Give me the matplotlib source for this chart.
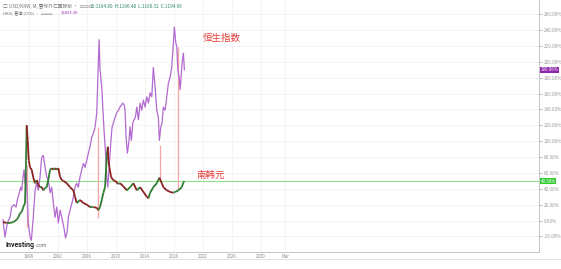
## USD/KRW vs Hang Seng, percent change since start (monthly)
import numpy as np
import matplotlib.pyplot as plt
from matplotlib.collections import LineCollection
from matplotlib.lines import Line2D

plt.rcParams['font.family'] = ['Noto Sans CJK SC', 'DejaVu Sans']

## Hang Seng index, % change (decimal year, value)
hsi_t = [1994.41, 1994.69, 1995.01, 1995.38, 1995.61, 1995.93, 1996.21, 1996.39, 1996.66, 1996.86,
         1996.99, 1997.13, 1997.31, 1997.45, 1997.59, 1997.77, 1997.90, 1998.14, 1998.32, 1998.59,
         1998.83, 1999.06, 1999.28, 1999.52, 1999.75, 1999.97, 2000.21, 2000.44, 2000.66, 2000.90,
         2001.13, 2001.35, 2001.59, 2001.82, 2002.04, 2002.28, 2002.51, 2002.83, 2003.03, 2003.24,
         2003.42, 2003.66, 2004.03, 2004.34, 2004.58, 2004.80, 2005.03, 2005.27, 2005.49, 2005.72,
         2005.96, 2006.18, 2006.41, 2006.65, 2006.87, 2007.10, 2007.34, 2007.48, 2007.66, 2007.79,
         2008.03, 2008.17, 2008.34, 2008.58, 2008.72, 2008.86, 2009.08, 2009.27, 2009.45, 2009.63,
         2009.86, 2010.10, 2010.32, 2010.55, 2010.92, 2011.10, 2011.24, 2011.38, 2011.56, 2011.75,
         2011.93, 2012.11, 2012.30, 2012.48, 2012.66, 2012.86, 2013.08, 2013.31, 2013.54, 2013.77,
         2014.00, 2014.23, 2014.46, 2014.69, 2014.92, 2015.14, 2015.38, 2015.61, 2015.83, 2015.97,
         2016.17, 2016.34, 2016.52, 2016.76, 2016.99, 2017.21, 2017.45, 2017.68, 2017.90, 2018.04,
         2018.23, 2018.37, 2018.51, 2018.69, 2018.83, 2018.97, 2019.10, 2019.28, 2019.42]
hsi_v = [1, -21, -3, 4, 17, 20, 17, 26, 35, 42,
         38, 51, 64, 47, 61, 26, -3, -21, -25, 4,
         38, 47, 38, 55, 80, 82, 67, 55, 51, 35,
         42, 22, 4, 17, -3, 13, 4, -10, -22, -15,
         4, 13, 26, 42, 47, 42, 55, 64, 72, 67,
         76, 85, 93, 105, 110, 117, 136, 177, 228, 190,
         168, 143, 114, 80, 55, 42, 72, 98, 118, 123,
         130, 136, 139, 143, 148, 146, 139, 105, 85, 98,
         118, 101, 123, 127, 130, 143, 127, 148, 139, 152,
         143, 156, 148, 161, 156, 193, 168, 139, 130, 101,
         118, 123, 143, 139, 156, 173, 181, 193, 224, 244,
         224, 219, 190, 181, 165, 181, 199, 211, 190.06]

## USD/KRW, % change
krw_t = [1994.41, 1994.92, 1995.38, 1995.83, 1996.30, 1996.52, 1996.76, 1996.99, 1997.21, 1997.45,
         1997.59, 1997.68, 1997.82, 1997.96, 1998.14, 1998.37, 1998.59, 1998.83, 1999.06, 1999.28,
         1999.52, 1999.75, 1999.97, 2000.21, 2000.44, 2000.66, 2000.90, 2001.13, 2001.35, 2001.59,
         2001.82, 2002.04, 2002.28, 2002.51, 2002.73, 2003.20, 2003.66, 2004.11, 2004.34, 2004.58,
         2005.03, 2005.49, 2005.96, 2006.41, 2006.87, 2007.34, 2007.56, 2007.79, 2008.03, 2008.25,
         2008.48, 2008.72, 2008.86, 2008.94, 2009.08, 2009.31, 2009.59, 2009.86, 2010.32, 2010.55,
         2011.01, 2011.48, 2011.93, 2012.39, 2012.86, 2013.31, 2013.77, 2014.23, 2014.46, 2014.69,
         2015.14, 2015.61, 2015.97, 2016.30, 2016.52, 2016.99, 2017.45, 2017.90, 2018.14, 2018.59,
         2019.06, 2019.28, 2019.42]
krw_v = [-2, -3, -3, -2, 1, 4, 9, 11, 17, 22,
         76, 120, 101, 76, 67, 64, 54, 47, 51, 45,
         42, 42, 38, 41, 42, 51, 64, 66, 64, 66,
         64, 66, 55, 51, 50, 47, 42, 38, 30, 22,
         26, 22, 20, 17, 17, 16, 13, 17, 26, 35,
         42, 82, 93, 76, 67, 55, 51, 50, 46, 47,
         43, 38, 42, 47, 38, 42, 36, 30, 28, 35,
         42, 47, 54, 47, 42, 38, 36, 35, 36, 38,
         42, 48, 49.58]

## hand-drawn marker lines: (year, bottom %, top %)
mark_t = [1997.68, 2007.48, 2016.07, 2018.51]
mark_lo = [-8, 3, 54, 38]
mark_hi = [70, 118, 95, 219]

yticks = list(range(-20, 261, 20))
xticks = [1998, 2002, 2006, 2010, 2014, 2018, 2022, 2026, 2030, 2033.3]
xlabels = ['1998', '2002', '2006', '2010', '2014', '2018', '2022', '2026', '2030', 'Mar']

fig = plt.figure(figsize=(5.61, 2.69), dpi=100)
ax = fig.add_axes([0, 17/269, 539/561, 252/269])
ax.set_xlim(1994.0, 2068.3)
ax.set_ylim(-39.7, 278)

ax.grid(True, color='#f2f2f2', lw=0.6)
ax.set_axisbelow(True)

ax.axhline(krw_v[-1], color='#8fe08f', lw=0.8, zorder=1)

ax.vlines(mark_t, mark_lo, mark_hi, color='#f5a3a3', lw=0.9, zorder=2)

ax.plot(hsi_t, hsi_v, color='#b36ad0', lw=0.9, zorder=3)

## KRW line coloured by direction
pts = np.column_stack([krw_t, krw_v])
segs = np.stack([pts[:-1], pts[1:]], axis=1)
cols = ['#2e7d32' if b >= a else '#8b2020' for a, b in zip(krw_v[:-1], krw_v[1:])]
ax.add_collection(LineCollection(segs, colors=cols, linewidths=1.3, zorder=4))

ax.yaxis.tick_right()
ax.set_yticks(yticks)
ax.set_yticklabels([f'{v:.2f}%' for v in yticks])
ax.set_xticks(xticks)
ax.set_xticklabels(xlabels)
ax.tick_params(axis='y', labelsize=3.3, colors='#999999', length=2, pad=1.5, width=0.5)
ax.tick_params(axis='x', labelsize=3.2, colors='#888888', length=0, pad=1.2)
for s in ['top', 'left']:
    ax.spines[s].set_visible(False)
for s in ['right', 'bottom']:
    ax.spines[s].set_color('#bbbbbb')
    ax.spines[s].set_linewidth(0.6)

yt = ax.get_yaxis_transform()
ax.text(1.003, hsi_v[-1], f'{hsi_v[-1]:.2f}%', transform=yt, fontsize=3.2, color='white',
        va='center', ha='left', bbox=dict(boxstyle='square,pad=0.15', fc='#8e24aa', ec='none'))
ax.text(1.003, krw_v[-1], f'{krw_v[-1]:.2f}%', transform=yt, fontsize=3.2, color='white',
        va='center', ha='left', bbox=dict(boxstyle='square,pad=0.15', fc='#33cc33', ec='none'))

ax.text(2024.5, 230, '恒生指数', color='#e53935', fontsize=6.8, ha='center', va='center')
ax.text(2023.1, 57, '南韩元', color='#e53935', fontsize=6.8, ha='center', va='center')

## header
fig.text(3/561, 1 - 6/269, '□ USD/KRW, M, 雪球外汇国际版 ·  ▭▭▭', fontsize=3.4, color='#777777', va='center')
fig.text(91/561, 1 - 6/269, 'O:1164.80  H:1196.48  L:1160.32  C:1194.66', fontsize=3.4,
         color='#2e8b6a', va='center')
fig.text(3/561, 1 - 13/269, 'HKSI, 香港 (CFD) ·  ▭▭▭', fontsize=3.0, color='#777777', va='center')
fig.text(61/561, 1 - 13/269, '25893.30', fontsize=3.0, color='#9c27b0', va='center')

## logo
fig.text(6/561, 1 - 245/269, 'Investing', fontsize=5.0, fontweight='bold', color='#222222',
         va='center', family='Roboto')
fig.text(35.5/561, 1 - 245.5/269, '.com', fontsize=3.6, color='#666666', va='center', family='Roboto')

fig.add_artist(Line2D([0, 1], [1 - 258.7/269] * 2, color='#dddddd', lw=0.6))

plt.savefig('out.png', dpi=100)
